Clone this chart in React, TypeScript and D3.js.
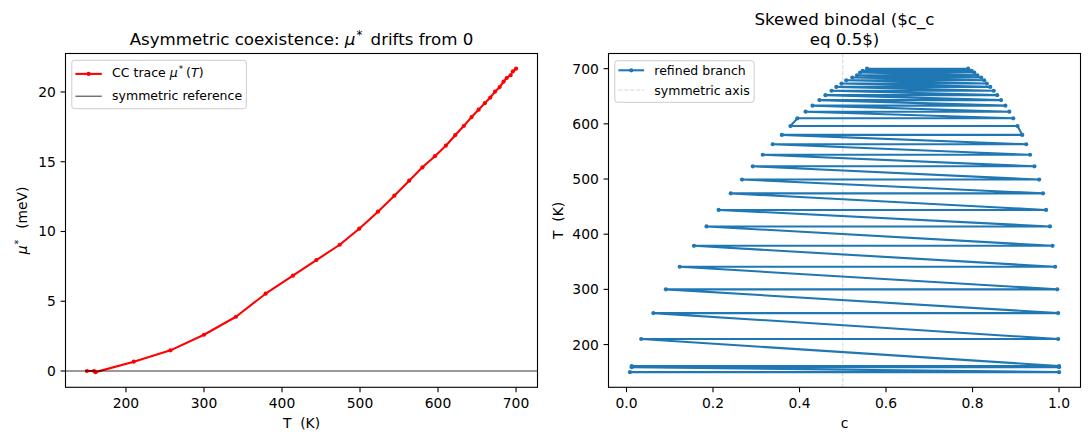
import * as d3 from "d3";

const W = 1089;
const H = 440;
const FONT = "DejaVu Sans, Verdana, sans-serif";
const RED = "#ff0000";
const BLUE = "#1f77b4";

// CC trace mu*(T)
const traceT = [150, 159, 161, 210, 257, 300, 341, 379, 414, 444, 474, 499, 523, 544, 563, 580, 596, 610, 622, 633, 643, 652, 660, 667, 673, 679, 684, 688, 693, 696, 700];
const traceMu = [0, 0, -0.08, 0.67, 1.48, 2.6, 3.89, 5.54, 6.83, 7.95, 9.05, 10.2, 11.42, 12.57, 13.64, 14.6, 15.4, 16.15, 16.9, 17.56, 18.2, 18.73, 19.2, 19.6, 20.02, 20.35, 20.74, 21.0, 21.2, 21.48, 21.67];

// binodal branches, one row per temperature
const binodalT = [150, 159, 161, 210, 257, 300, 341, 379, 414, 444, 474, 499, 523, 544, 563, 580, 596, 610, 622, 633, 643, 652, 660, 667, 673, 679, 684, 688, 693, 696, 700];
const cLow = [0.008, 0.012, 0.012, 0.034, 0.062, 0.091, 0.123, 0.156, 0.185, 0.213, 0.241, 0.267, 0.292, 0.315, 0.338, 0.359, 0.379, 0.395, 0.414, 0.43, 0.446, 0.46, 0.474, 0.485, 0.497, 0.508, 0.522, 0.533, 0.54, 0.546, 0.556];
const cHigh = [1.0, 1.0, 1.0, 0.998, 0.998, 0.996, 0.991, 0.985, 0.979, 0.97, 0.963, 0.954, 0.943, 0.933, 0.924, 0.915, 0.904, 0.894, 0.885, 0.876, 0.866, 0.857, 0.849, 0.841, 0.833, 0.827, 0.82, 0.811, 0.804, 0.798, 0.79];
// rows where the high branch comes first in the path
const swappedRows = [596];

const leftXTicks = [200, 300, 400, 500, 600, 700];
const leftYTicks = [0, 5, 10, 15, 20];
const rightXTicks = [0, 0.2, 0.4, 0.6, 0.8, 1.0];
const rightYTicks = [200, 300, 400, 500, 600, 700];

const LEFT_BOX = { x0: 65.5, x1: 537.5, y0: 53.5, y1: 387.3 };
const RIGHT_BOX = { x0: 608.5, x1: 1080.5, y0: 53.5, y1: 387.3 };

const TICK_FS = 13.89;
const LEGEND_FS = 12.5;
const TITLE_FS = 16.67;

// matplotlib-style 5% margins
const padded = (vals: number[]): [number, number] => {
  const [lo, hi] = d3.extent(vals) as [number, number];
  const m = (hi - lo) * 0.05;
  return [lo - m, hi + m];
};

type Box = { x0: number; x1: number; y0: number; y1: number };

const Frame = ({ box, x, y, xTicks, yTicks, xFmt, yFmt }: {
  box: Box;
  x: d3.ScaleLinear<number, number>;
  y: d3.ScaleLinear<number, number>;
  xTicks: number[];
  yTicks: number[];
  xFmt: (v: number) => string;
  yFmt: (v: number) => string;
}) => (
  <g>
    <rect x={box.x0} y={box.y0} width={box.x1 - box.x0} height={box.y1 - box.y0} fill="none" stroke="#000" strokeWidth={1.1} />
    {xTicks.map((t, i) => (
      <g key={"x" + i}>
        <line x1={x(t)} x2={x(t)} y1={box.y1} y2={box.y1 + 4.9} stroke="#000" strokeWidth={1.1} />
        <text x={x(t)} y={box.y1 + 20.4} textAnchor="middle" fontSize={TICK_FS}>{xFmt(t)}</text>
      </g>
    ))}
    {yTicks.map((t, i) => (
      <g key={"y" + i}>
        <line x1={box.x0 - 4.9} x2={box.x0} y1={y(t)} y2={y(t)} stroke="#000" strokeWidth={1.1} />
        <text x={box.x0 - 9.7} y={y(t) + 5} textAnchor="end" fontSize={TICK_FS}>{yFmt(t)}</text>
      </g>
    ))}
  </g>
);

const LeftPanel = () => {
  const box = LEFT_BOX;
  const x = d3.scaleLinear().domain(padded(traceT)).range([box.x0, box.x1]);
  const y = d3.scaleLinear().domain(padded(traceMu)).range([box.y1, box.y0]);
  const pts = traceT.map((t, i) => [x(t), y(traceMu[i])] as [number, number]);
  const path = d3.line()(pts) || "";
  const cx = (box.x0 + box.x1) / 2;
  const cy = (box.y0 + box.y1) / 2;
  const lx = box.x0 + 6.3;
  const ly = box.y0 + 6.8;
  return (
    <g>
      <path d={path} fill="none" stroke={RED} strokeWidth={2.08} strokeLinejoin="round" />
      {pts.map((p, i) => (
        <circle key={i} cx={p[0]} cy={p[1]} r={2.1} fill={RED} />
      ))}
      <line x1={box.x0} x2={box.x1} y1={y(0)} y2={y(0)} stroke="#000" strokeWidth={0.8} />
      <Frame box={box} x={x} y={y} xTicks={leftXTicks} yTicks={leftYTicks} xFmt={(v) => String(v)} yFmt={(v) => String(v)} />

      <text x={cx} y={box.y0 - 8.3} textAnchor="middle" fontSize={TITLE_FS}>
        Asymmetric coexistence: <tspan fontStyle="italic">μ</tspan>
        <tspan fontSize={11.7} dy={-6.5} dx={1}>*</tspan>
        <tspan dy={6.5} dx={3}> drifts from 0</tspan>
      </text>
      <text x={cx} y={427.5} textAnchor="middle" fontSize={TICK_FS} style={{ whiteSpace: "pre" }}>T  (K)</text>
      <text transform={`translate(27,${cy}) rotate(-90)`} textAnchor="middle" fontSize={TICK_FS} style={{ whiteSpace: "pre" }}>
        <tspan fontStyle="italic">μ</tspan>
        <tspan fontSize={9.7} dy={-5.5} dx={1}>*</tspan>
        <tspan dy={5.5} dx={2}>  (meV)</tspan>
      </text>

      <rect x={lx} y={ly} width={174.5} height={48.4} rx={2.5} fill="#fff" fillOpacity={0.8} stroke="#cccccc" strokeWidth={1} />
      <line x1={lx + 3.6} x2={lx + 30} y1={box.y0 + 20.4} y2={box.y0 + 20.4} stroke={RED} strokeWidth={2.08} />
      <circle cx={lx + 16.8} cy={box.y0 + 20.4} r={2.1} fill={RED} />
      <text x={lx + 40.3} y={box.y0 + 23.6} fontSize={LEGEND_FS}>
        CC trace <tspan fontStyle="italic">μ</tspan>
        <tspan fontSize={8.75} dy={-5} dx={1}>*</tspan>
        <tspan dy={5} dx={3}>(</tspan>
        <tspan fontStyle="italic">T</tspan>)
      </text>
      <line x1={lx + 3.6} x2={lx + 30} y1={box.y0 + 42.7} y2={box.y0 + 42.7} stroke="#000" strokeWidth={0.8} />
      <text x={lx + 40.3} y={box.y0 + 46.5} fontSize={LEGEND_FS}>symmetric reference</text>
    </g>
  );
};

const RightPanel = () => {
  const box = RIGHT_BOX;
  const x = d3.scaleLinear().domain(padded([...cLow, ...cHigh])).range([box.x0, box.x1]);
  const y = d3.scaleLinear().domain(padded(binodalT)).range([box.y1, box.y0]);
  const pts: [number, number][] = [];
  binodalT.forEach((t, i) => {
    const lo: [number, number] = [x(cLow[i]), y(t)];
    const hi: [number, number] = [x(cHigh[i]), y(t)];
    if (swappedRows.includes(t)) pts.push(hi, lo);
    else pts.push(lo, hi);
  });
  const path = d3.line()(pts) || "";
  const cx = (box.x0 + box.x1) / 2;
  const cy = (box.y0 + box.y1) / 2;
  const lx = box.x0 + 6.3;
  const ly = box.y0 + 7.2;
  return (
    <g>
      <line x1={x(0.5)} x2={x(0.5)} y1={box.y0} y2={box.y1} stroke="#cfcfcf" strokeWidth={0.9} strokeDasharray="4.1,1.8" />
      <path d={path} fill="none" stroke={BLUE} strokeWidth={2.08} strokeLinejoin="round" />
      {pts.map((p, i) => (
        <circle key={i} cx={p[0]} cy={p[1]} r={2.1} fill={BLUE} />
      ))}
      <Frame box={box} x={x} y={y} xTicks={rightXTicks} yTicks={rightYTicks} xFmt={(v) => v.toFixed(1)} yFmt={(v) => String(v)} />

      <text x={cx} y={box.y0 - 28.3} textAnchor="middle" fontSize={TITLE_FS}>Skewed binodal ($c_c</text>
      <text x={cx} y={box.y0 - 8.3} textAnchor="middle" fontSize={TITLE_FS}>eq 0.5$)</text>
      <text x={cx} y={427.5} textAnchor="middle" fontSize={TICK_FS}>c</text>
      <text transform={`translate(563.2,${cy}) rotate(-90)`} textAnchor="middle" fontSize={TICK_FS} style={{ whiteSpace: "pre" }}>T  (K)</text>

      <rect x={lx} y={ly} width={139.3} height={41.6} rx={2.5} fill="#fff" fillOpacity={0.8} stroke="#cccccc" strokeWidth={1} />
      <line x1={lx + 3.6} x2={lx + 29.3} y1={box.y0 + 16.8} y2={box.y0 + 16.8} stroke={BLUE} strokeWidth={2.08} />
      <circle cx={lx + 16.5} cy={box.y0 + 16.8} r={2.1} fill={BLUE} />
      <text x={lx + 39.5} y={box.y0 + 21.3} fontSize={LEGEND_FS}>refined branch</text>
      <line x1={lx + 3.6} x2={lx + 29.3} y1={box.y0 + 36.5} y2={box.y0 + 36.5} stroke="#cfcfcf" strokeWidth={0.9} strokeDasharray="4.1,1.8" />
      <text x={lx + 39.5} y={box.y0 + 41} fontSize={LEGEND_FS}>symmetric axis</text>
    </g>
  );
};

export default function App() {
  return (
    <svg
      width={W}
      height={H}
      style={{ position: "absolute", left: 0, top: 0, background: "#fff" }}
      fontFamily={FONT}
      fill="#000"
    >
      <rect width={W} height={H} fill="#fff" />
      <LeftPanel />
      <RightPanel />
    </svg>
  );
}
